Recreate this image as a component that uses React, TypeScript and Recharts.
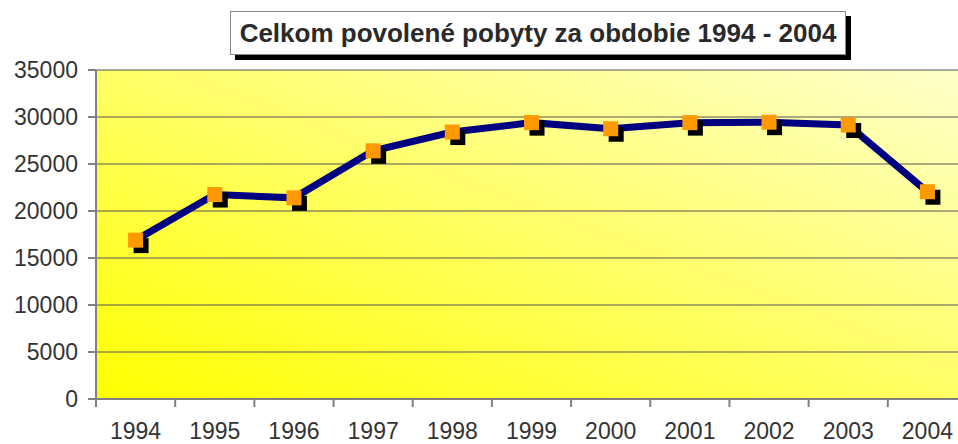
import React from 'react';
import { LineChart, Line, XAxis, YAxis, CartesianGrid } from 'recharts';

// years on the category axis
const years = ['1994', '1995', '1996', '1997', '1998', '1999', '2000', '2001', '2002', '2003', '2004'];
// total permitted residences per year
const stays = [16900, 21750, 21400, 26400, 28400, 29400, 28750, 29400, 29450, 29150, 22050];
const yTicks = [0, 5000, 10000, 15000, 20000, 25000, 30000, 35000];

const data = years.map((year, i) => ({ x: i + 0.5, year, value: stays[i] }));
const boundaryTicks = years.map((_, i) => i).concat(years.length);

const FONT = '"Liberation Sans", Arial, sans-serif';
const HALF_BAND = (958 + 9 - 96) / years.length / 2;

const YearTick = (props: any) => {
  const { x, y, payload } = props;
  const label = years[payload.value];
  if (!label) return null;
  return (
    <text x={x + HALF_BAND} y={y} dy="0.71em" textAnchor="middle" fill="#333" fontSize={23} fontFamily={FONT}>
      {label}
    </text>
  );
};

const Marker = (props: any) => {
  const { cx, cy } = props;
  return <rect x={cx - 7.5} y={cy - 7.5} width={15} height={15} fill="#FF9900" />;
};

const MarkerShadow = (props: any) => {
  const { cx, cy } = props;
  return <rect x={cx - 2} y={cy - 2} width={15} height={15} fill="#000" />;
};

export default function App() {
  return (
    <div style={{ position: 'absolute', left: 0, top: 0, width: 958, height: 444, background: '#fff', overflow: 'hidden' }}>
      <LineChart width={958} height={444} data={data} margin={{ top: 70, right: -9, bottom: 0, left: 0 }}>
        <defs>
          <linearGradient id="plotBg" x1="0" y1="1" x2="1" y2="0">
            <stop offset="0%" stopColor="#FFFF00" />
            <stop offset="100%" stopColor="#FFFFCC" />
          </linearGradient>
        </defs>
        <CartesianGrid vertical={false} fill="url(#plotBg)" stroke="#555" strokeWidth={1} />
        <XAxis
          dataKey="x"
          type="number"
          domain={[0, years.length]}
          ticks={boundaryTicks}
          interval={0}
          height={45}
          tick={<YearTick />}
          tickSize={8}
          tickMargin={16}
          tickLine={{ stroke: '#808080', strokeWidth: 2 }}
          axisLine={{ stroke: '#808080', strokeWidth: 2 }}
        />
        <YAxis
          domain={[0, 35000]}
          ticks={yTicks}
          width={96}
          tickSize={8}
          tickMargin={10}
          tick={{ fill: '#333', fontSize: 23, fontFamily: FONT }}
          tickLine={{ stroke: '#808080', strokeWidth: 2 }}
          axisLine={{ stroke: '#808080', strokeWidth: 2 }}
        />
        <Line
          dataKey="value"
          stroke="none"
          dot={<MarkerShadow />}
          activeDot={false}
          isAnimationActive={false}
        />
        <Line
          dataKey="value"
          stroke="#000080"
          strokeWidth={7}
          dot={<Marker />}
          activeDot={false}
          isAnimationActive={false}
        />
      </LineChart>
      <div
        style={{
          position: 'absolute',
          left: 230,
          top: 11,
          width: 614,
          height: 42,
          background: '#fff',
          border: '1px solid #888',
          boxShadow: '5px 5px 0 #000',
          fontFamily: FONT,
          fontWeight: 'bold',
          fontSize: 26,
          color: '#2a2a2a',
          display: 'flex',
          alignItems: 'center',
          justifyContent: 'center',
          whiteSpace: 'nowrap',
        }}
      >
        Celkom povolené pobyty za obdobie 1994 - 2004
      </div>
    </div>
  );
}
